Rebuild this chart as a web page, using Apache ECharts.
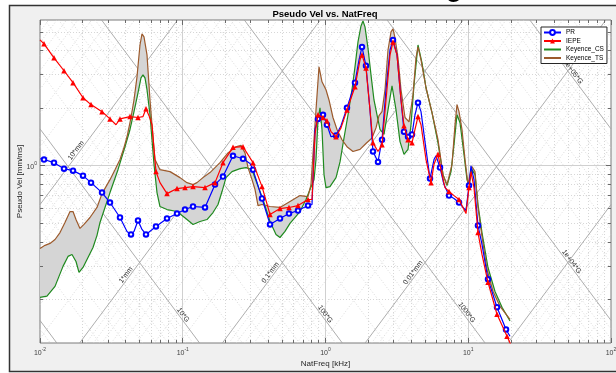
<!DOCTYPE html>
<html>
<head>
<meta charset="utf-8">
<script src="https://cdn.jsdelivr.net/npm/echarts@6/dist/echarts.min.js"></script>
<style>
  html, body { margin: 0; padding: 0; background: #ffffff; }
  #chart { width: 616px; height: 373px; }
</style>
</head>
<body>
<div id="chart"></div>
<script>
// ---- Shock response spectra: pseudo velocity [mm/ms] against natural frequency [kHz] ----

const PR_freq = [0.0100,0.01067,0.01253,0.01473,0.01703,0.02001,0.02277,0.02719,0.03093,0.03634,0.04069,0.04340,0.04555,0.04859,0.05182,0.05528,0.06494,0.07757,0.09116,0.1037,0.1180,0.1432,0.1683,0.1914,0.2249,0.2643,0.2959,0.3106,0.3592,0.4086,0.4800,0.5550,0.6417,0.7541,0.8043,0.8442,0.8861,0.9605,1.024,1.093,1.185,1.284,1.414,1.609,1.717,1.802,1.921,2.050,2.151,2.332,2.488,2.654,2.831,2.971,3.169,3.380,3.548,3.785,4.036,4.236,4.446,4.667,5.058,5.396,5.756,5.945,6.341,6.763,7.334,7.947,8.615,9.188,9.643,10.12,10.45,10.97,11.70,12.48,13.75,15.90,18.39,19.61];
const PR_vel = [1.09,1.08,1.04,0.968,0.945,0.890,0.818,0.726,0.644,0.538,0.455,0.439,0.455,0.519,0.466,0.439,0.483,0.532,0.564,0.592,0.614,0.607,0.799,0.880,1.13,1.09,1.03,0.956,0.676,0.495,0.532,0.564,0.585,0.621,0.629,1.55,1.76,1.85,1.64,1.42,1.44,1.62,2.01,2.72,3.58,4.18,3.33,1.96,1.19,1.05,1.37,2.50,4.03,4.55,3.80,2.21,1.51,1.42,1.46,1.85,2.14,1.92,1.22,0.859,1.08,1.13,0.980,0.799,0.700,0.676,0.644,0.607,0.585,0.790,1.00,0.848,0.489,0.389,0.256,0.183,0.140,0.129];
// 1 = point carries a marker
const PR_mark = [0,1,1,1,1,1,1,1,1,1, 0,1,0,1,0,1,1,1,1,1, 1,1,1,1,1,1,0,1,1,1, 1,1,1,1,0,0,1,1,1,0, 1,0,1,1,0,1,1,0,1,1, 1,0,0,1,0,0,1,1,1,0, 1,0,0,1,0,0,1,0,1,0, 1,0,0,1,0,0,1,0,1,1, 1,0];

const IEPE_freq = [0.0100,0.01067,0.01253,0.01473,0.01703,0.02001,0.02277,0.02719,0.03093,0.03407,0.03634,0.04271,0.04859,0.05266,0.05528,0.05802,0.06089,0.06288,0.06494,0.06927,0.07757,0.09116,0.1037,0.1180,0.1432,0.1683,0.1914,0.2249,0.2643,0.3106,0.3592,0.4086,0.4800,0.5550,0.6417,0.7541,0.8043,0.8442,0.8861,0.9605,1.024,1.093,1.185,1.284,1.414,1.609,1.745,1.802,1.921,2.050,2.151,2.332,2.488,2.654,2.831,2.971,3.169,3.380,3.548,3.785,4.036,4.236,4.446,4.667,5.058,5.484,5.756,6.139,6.444,6.872,7.334,7.947,8.615,9.188,9.643,10.12,10.45,10.97,11.70,12.48,13.75,15.90,18.69,19.93];
const IEPE_vel = [4.55,4.34,3.67,3.14,2.72,2.27,2.09,1.92,1.76,1.64,1.76,1.81,1.79,1.81,1.99,1.83,1.64,1.22,0.934,0.818,0.717,0.762,0.771,0.780,0.771,0.818,1.04,1.25,1.26,1.04,0.780,0.558,0.599,0.607,0.621,0.668,0.668,1.46,1.85,1.79,1.72,1.51,1.42,1.58,1.96,2.59,3.58,3.80,3.25,1.96,1.32,1.19,1.29,2.21,3.80,4.44,3.80,2.21,1.62,1.37,1.32,1.55,1.81,1.64,1.08,0.818,1.02,1.15,0.956,0.771,0.735,0.700,0.668,0.607,0.564,0.771,0.934,0.771,0.449,0.345,0.247,0.168,0.129,0.116];
const IEPE_mark = [0,1,1,1,1,1,1,1,1,0, 1,1,1,0,1,0,0,0,1,0, 1,1,1,1,1,1,1,1,1,1, 1,1,1,1,1,1,0,0,1,1, 1,0,1,0,1,1,0,1,1,0, 1,0,1,0,0,1,0,0,1,1, 1,0,1,0,0,1,0,1,0,0, 1,0,1,0,0,1,0,0,1,0, 1,1,1,0];

const CS_freq = [0.0100,0.01119,0.01274,0.01449,0.01571,0.01676,0.01787,0.01876,0.02001,0.02169,0.02351,0.02508,0.02633,0.02853,0.03093,0.03518,0.03940,0.04271,0.04555,0.04859,0.05099,0.05266,0.05439,0.05618,0.05896,0.06089,0.06288,0.06600,0.06927,0.07757,0.09116,0.1071,0.1180,0.1321,0.1479,0.1629,0.1766,0.1884,0.2009,0.2213,0.2518,0.2775,0.3056,0.3313,0.3650,0.4086,0.4500,0.4800,0.5203,0.5640,0.6627,0.7302,0.7788,0.8307,0.8579,0.8861,0.9151,0.9452,0.9761,1.008,1.075,1.185,1.264,1.348,1.438,1.533,1.609,1.689,1.773,1.831,1.891,1.984,2.083,2.186,2.295,2.409,2.570,2.741,2.924,3.119,3.326,3.548,3.785,3.972,4.169,4.446,4.742,5.058,5.573,6.139,6.655,7.098,7.574,7.947,8.342,8.754,9.337,9.800,10.12,10.62,11.15,11.70,12.48,13.75,15.40,17.24,19.61];
const CS_vel = [0.206,0.209,0.235,0.299,0.337,0.345,0.317,0.278,0.295,0.333,0.375,0.434,0.507,0.607,0.726,0.956,1.26,1.55,1.92,2.41,2.88,2.99,2.88,2.50,1.85,1.37,1.02,0.726,0.614,0.592,0.578,0.525,0.495,0.513,0.525,0.571,0.629,0.735,0.869,0.934,0.968,0.980,0.956,0.809,0.668,0.513,0.439,0.423,0.455,0.501,0.578,0.668,0.753,0.848,1.08,1.74,2.01,1.55,0.901,0.771,0.780,0.869,1.05,1.40,1.85,2.50,3.29,4.44,5.38,5.71,5.32,4.13,2.99,2.21,1.85,1.55,1.46,1.96,2.62,1.96,1.34,1.15,1.22,1.64,2.65,4.28,3.45,2.56,1.90,1.32,0.901,0.790,0.934,1.29,1.85,1.68,1.15,0.848,0.790,0.956,0.901,0.629,0.449,0.295,0.221,0.183,0.155];

const TS_freq = [0.0100,0.01084,0.01175,0.01274,0.01381,0.01496,0.01623,0.01703,0.01787,0.01906,0.02033,0.02240,0.02508,0.02719,0.03093,0.03353,0.03634,0.03877,0.04069,0.04340,0.04555,0.04781,0.05017,0.05182,0.05352,0.05618,0.05896,0.06089,0.06391,0.06927,0.08143,0.09566,0.1071,0.1180,0.1258,0.1386,0.1552,0.1824,0.2075,0.2361,0.2559,0.2730,0.2865,0.3056,0.3208,0.3367,0.3592,0.4086,0.4800,0.5640,0.6627,0.7541,0.7914,0.8174,0.8579,0.9005,0.9452,1.008,1.058,1.128,1.204,1.305,1.414,1.558,1.745,1.921,2.117,2.258,2.370,2.488,2.611,2.741,2.877,2.971,3.069,3.220,3.380,3.606,3.846,4.102,4.305,4.446,4.667,5.058,5.573,6.139,6.655,7.098,7.697,8.077,8.342,8.615,9.041,9.489,9.959,10.29,10.62,11.15,11.70,12.48,13.53,14.91,16.69,19.61];
const TS_vel = [0.371,0.385,0.394,0.413,0.449,0.507,0.578,0.578,0.525,0.472,0.495,0.538,0.607,0.717,0.848,0.956,1.08,1.25,1.42,1.79,2.21,2.92,4.28,4.89,4.72,3.80,2.21,1.64,1.08,0.956,0.934,0.869,0.818,0.799,0.818,0.869,0.923,1.04,1.17,1.26,1.28,1.17,0.980,0.848,0.753,0.621,0.629,0.614,0.607,0.652,0.700,0.692,0.799,1.15,1.96,3.29,2.75,2.50,2.21,1.79,1.55,1.37,1.26,1.19,1.22,1.31,1.40,1.58,1.83,1.92,2.50,4.03,5.01,5.19,4.66,3.67,2.50,1.79,1.70,2.35,3.67,4.18,3.58,2.56,1.90,1.37,0.901,0.799,1.02,1.64,2.09,1.92,1.55,1.08,0.799,0.901,0.992,0.934,0.607,0.428,0.288,0.221,0.185,0.158];

// axis ranges
const F_MIN = 0.01, F_MAX = 100, V_MIN = 0.119, V_MAX = 5.78;
// tick labels are powers of ten
const X_TICK_EXP = [-2, -1, 0, 1, 2];
const Y_TICK_EXP = [0];

// tripartite reference lines: constant displacement [mm] and constant acceleration [G]
const DISP_MM = [10, 1, 0.1, 0.01, 0.001];
const DISP_TEXT = ['10*mm', '1*mm', '0.1*mm', '0.01*mm', ''];
const ACCEL_G = [1, 10, 100, 1000, 1e4, 1e5];
const ACCEL_TEXT = ['', '10*G', '100*G', '1000*G', '1e+04*G', '1e+05*G'];

// frequency along each reference line where its label is written
const DISP_LABEL_AT = [0.0187, 0.0418, 0.430, 4.30, null];
const ACCEL_LABEL_AT = [null, 0.0961, 0.951, 9.32, 50.6, 51.7];

const G_MM_MS2 = 9.80665e-3;   // 1 G in mm/ms^2
const TWO_PI = 2 * Math.PI;
const FONT = "'Liberation Sans', Arial, Helvetica, sans-serif";

// ---- helpers ----
const LX0 = Math.log10(F_MIN), LX1 = Math.log10(F_MAX);
const LY0 = Math.log10(V_MIN), LY1 = Math.log10(V_MAX);

// clip log V = s*log f + c to the plot box
function clipDiagonal(c, s) {
  let a, b;
  if (s > 0) { a = Math.max(LX0, LY0 - c); b = Math.min(LX1, LY1 - c); }
  else { a = Math.max(LX0, c - LY1); b = Math.min(LX1, c - LY0); }
  if (b <= a) return null;
  return [Math.pow(10, a), Math.pow(10, s * a + c), Math.pow(10, b), Math.pow(10, s * b + c)];
}
const dispConst = d => Math.log10(TWO_PI * d);
const accelConst = g => Math.log10(g * G_MM_MS2 / TWO_PI);

// grid segments: [f1, v1, f2, v2, kind]; kind 0 major, 1 minor, 2 major diagonal, 3 minor diagonal
const gridSegs = [];
for (let e = -2; e < 2; e++) {
  for (let k = 1; k <= 9; k++) {
    const f = k * Math.pow(10, e);
    if (f <= F_MIN * 1.0001 || f >= F_MAX * 0.9999) continue;
    gridSegs.push([f, V_MIN, f, V_MAX, k === 1 ? 0 : 1]);
  }
}
for (let e = -1; e <= 0; e++) {
  for (let k = 1; k <= 9; k++) {
    const v = k * Math.pow(10, e);
    if (v <= V_MIN || v >= V_MAX) continue;
    gridSegs.push([F_MIN, v, F_MAX, v, k === 1 ? 0 : 1]);
  }
}
for (let e = -4; e <= 2; e++) {
  for (let k = 1; k <= 9; k++) {
    const seg = clipDiagonal(dispConst(k * Math.pow(10, e)), 1);
    if (seg) gridSegs.push(seg.concat([k === 1 ? 2 : 3]));
  }
}
for (let e = -1; e <= 6; e++) {
  for (let k = 1; k <= 9; k++) {
    const seg = clipDiagonal(accelConst(k * Math.pow(10, e)), -1);
    if (seg) gridSegs.push(seg.concat([k === 1 ? 2 : 3]));
  }
}
const GRID_STYLE = [
  { stroke: '#d0d0d0', lineWidth: 1 },
  { stroke: '#cdcdcd', lineWidth: 0.8, lineDash: [1, 2] },
  { stroke: '#a4a4a4', lineWidth: 0.9 },
  { stroke: '#d0d0d0', lineWidth: 0.8, lineDash: [1, 2] }
];

// ticks: [f, v, isY, major, exponent]
const tickData = [];
for (let e = -2; e <= 2; e++) {
  for (let k = 1; k <= 9; k++) {
    const f = k * Math.pow(10, e);
    if (f > F_MAX * 1.0001) break;
    const major = k === 1;
    tickData.push([f, V_MIN, 0, major ? 1 : 0, major && X_TICK_EXP.includes(e) ? e : null]);
  }
}
for (let e = -1; e <= 0; e++) {
  for (let k = 1; k <= 9; k++) {
    const v = k * Math.pow(10, e);
    if (v <= V_MIN || v >= V_MAX) continue;
    const major = k === 1;
    tickData.push([F_MIN, v, 1, major ? 1 : 0, major && Y_TICK_EXP.includes(e) ? e : null]);
  }
}

// reference line labels: [f, v, slopeSign, textIndex]
const refLabels = [];
const refTexts = [];
DISP_MM.forEach((d, i) => {
  if (DISP_LABEL_AT[i] == null) return;
  const f = DISP_LABEL_AT[i];
  refLabels.push([f, TWO_PI * f * d, 1, refTexts.length]);
  refTexts.push(DISP_TEXT[i]);
});
ACCEL_G.forEach((g, i) => {
  if (ACCEL_LABEL_AT[i] == null) return;
  const f = ACCEL_LABEL_AT[i];
  refLabels.push([f, g * G_MM_MS2 / (TWO_PI * f), -1, refTexts.length]);
  refTexts.push(ACCEL_TEXT[i]);
});

function lineData(freq, vel, mark) {
  return freq.map((f, i) => (mark && !mark[i]) ? { value: [f, vel[i]], symbol: 'none' } : { value: [f, vel[i]] });
}

const tickRich = {
  b: { fontSize: 7, fontFamily: FONT, fill: '#404040', lineHeight: 10, verticalAlign: 'bottom' },
  s: { fontSize: 5, fontFamily: FONT, fill: '#404040', lineHeight: 10, verticalAlign: 'top' }
};

const chart = echarts.init(document.getElementById('chart'));

const option = {
  animation: false,
  backgroundColor: '#ffffff',
  title: {
    text: 'Pseudo Vel vs. NatFreq',
    left: 325, top: 9, textAlign: 'center', padding: 0,
    textStyle: { fontSize: 9.5, fontWeight: 'bold', color: '#000', fontFamily: FONT }
  },
  graphic: [
    { type: 'rect', z: -10, silent: true,
      shape: { x: 9.5, y: 5.5, width: 620, height: 366 },
      style: { fill: '#f0f0f0', stroke: '#333333', lineWidth: 1.5 } },
    { type: 'text', z: 10, silent: true, x: 446, y: -23,
      style: { text: 'g', font: "bold 26px 'Liberation Sans', Arial, sans-serif", fill: '#000' } }
  ],
  grid: {
    left: 40, right: 5, top: 20, bottom: 29,
    show: true, backgroundColor: '#ffffff', borderColor: '#7a7a7a', borderWidth: 1
  },
  legend: {
    data: [
      { name: 'PR' },
      { name: 'IEPE' },
      { name: 'Keyence_CS', itemStyle: { opacity: 0 } },
      { name: 'Keyence_TS', itemStyle: { opacity: 0 } }
    ],
    orient: 'vertical', left: 541, top: 27,
    itemWidth: 17, itemHeight: 6, itemGap: 1.5,
    padding: [2, 3, 2, 2],
    backgroundColor: '#ffffff', borderColor: '#262626', borderWidth: 1, borderRadius: 0,
    textStyle: { fontSize: 6.5, lineHeight: 7, fontFamily: FONT, color: '#000' },
    selectedMode: false
  },
  xAxis: {
    type: 'log', logBase: 10, min: F_MIN, max: F_MAX,
    axisLine: { show: false }, axisTick: { show: false }, axisLabel: { show: false }, splitLine: { show: false },
    name: 'NatFreq [kHz]', nameLocation: 'middle', nameGap: 17,
    nameTextStyle: { fontSize: 8, color: '#262626', fontFamily: FONT }
  },
  yAxis: {
    type: 'log', logBase: 10, min: V_MIN, max: V_MAX,
    axisLine: { show: false }, axisTick: { show: false }, axisLabel: { show: false }, splitLine: { show: false },
    name: 'Pseudo Vel [mm/ms]', nameLocation: 'middle', nameGap: 16, nameRotate: 90,
    nameTextStyle: { fontSize: 8, color: '#262626', fontFamily: FONT }
  },
  series: [
    {
      type: 'custom', name: 'grid', silent: true, z: 1,
      data: gridSegs, encode: { x: [0, 2], y: [1, 3] },
      renderItem(params, api) {
        const a = api.coord([api.value(0), api.value(1)]);
        const b = api.coord([api.value(2), api.value(3)]);
        const kind = api.value(4);
        if (kind < 2) {
          if (Math.abs(a[0] - b[0]) < 0.01) { a[0] = b[0] = Math.floor(a[0]) + 0.5; }
          else { a[1] = b[1] = Math.floor(a[1]) + 0.5; }
        }
        return { type: 'line', shape: { x1: a[0], y1: a[1], x2: b[0], y2: b[1] }, style: GRID_STYLE[kind] };
      }
    },
    {
      type: 'custom', name: 'band', silent: true, z: 2,
      data: [[CS_freq[0], CS_vel[0]]], encode: { x: 0, y: 1 },
      renderItem(params, api) {
        const pts = [];
        for (let i = 0; i < CS_freq.length; i++) pts.push(api.coord([CS_freq[i], CS_vel[i]]));
        for (let i = TS_freq.length - 1; i >= 0; i--) pts.push(api.coord([TS_freq[i], TS_vel[i]]));
        return { type: 'polygon', shape: { points: pts }, style: { fill: '#d5d5d5' } };
      }
    },
    {
      type: 'custom', name: 'refLabels', silent: true, z: 3,
      data: refLabels, encode: { x: 0, y: 1 },
      renderItem(params, api) {
        const f = api.value(0), v = api.value(1), s = api.value(2);
        const p = api.coord([f, v]);
        const q = api.coord([f * 1.2, s > 0 ? v * 1.2 : v / 1.2]);
        const ang = Math.atan2(-(q[1] - p[1]), q[0] - p[0]);
        return {
          type: 'text', x: p[0], y: p[1], rotation: ang,
          style: { text: refTexts[api.value(3)], align: 'center', verticalAlign: 'bottom',
                   font: "7px 'Liberation Sans', Arial, sans-serif", fill: '#2a2a2a' }
        };
      }
    },
    {
      name: 'Keyence_CS', type: 'line', z: 4,
      data: lineData(CS_freq, CS_vel), symbol: 'none',
      lineStyle: { color: '#1f8a1f', width: 1.2 }, itemStyle: { color: '#1f8a1f' },
      emphasis: { disabled: true }
    },
    {
      name: 'Keyence_TS', type: 'line', z: 4,
      data: lineData(TS_freq, TS_vel), symbol: 'none',
      lineStyle: { color: '#9c5a2c', width: 1.2 }, itemStyle: { color: '#9c5a2c' },
      emphasis: { disabled: true }
    },
    {
      name: 'PR', type: 'line', z: 5,
      data: lineData(PR_freq, PR_vel, PR_mark),
      symbol: 'emptyCircle', symbolSize: 4.5,
      lineStyle: { color: '#0000ff', width: 1.2 }, itemStyle: { color: '#0000ff', borderWidth: 1 },
      emphasis: { disabled: true }
    },
    {
      name: 'IEPE', type: 'line', z: 6,
      data: lineData(IEPE_freq, IEPE_vel, IEPE_mark),
      symbol: 'triangle', symbolSize: 5.5,
      lineStyle: { color: '#ff0000', width: 1.2 }, itemStyle: { color: '#ff0000' },
      emphasis: { disabled: true }
    },
    {
      type: 'custom', name: 'ticks', silent: true, z: 7,
      data: tickData, encode: { x: 0, y: 1 },
      renderItem(params, api) {
        const cs = params.coordSys;
        const isY = api.value(2) === 1;
        const len = api.value(3) === 1 ? 5 : 3;
        const exp = api.value(4);
        const p = api.coord([api.value(0), api.value(1)]);
        const st = { stroke: '#6a6a6a', lineWidth: 1 };
        const ch = [];
        if (!isY) {
          const x = Math.floor(p[0]) + 0.5, yb = cs.y + cs.height, yt = cs.y;
          ch.push({ type: 'line', shape: { x1: x, y1: yb, x2: x, y2: yb - len }, style: st });
          ch.push({ type: 'line', shape: { x1: x, y1: yt, x2: x, y2: yt + len }, style: st });
          if (exp != null && !isNaN(exp)) {
            ch.push({ type: 'text', x: p[0], y: yb + 4,
              style: { text: '{b|10}{s|' + exp + '}', rich: tickRich, align: 'center', verticalAlign: 'top' } });
          }
        } else {
          const y = Math.floor(p[1]) + 0.5, xl = cs.x, xr = cs.x + cs.width;
          ch.push({ type: 'line', shape: { x1: xl, y1: y, x2: xl + len, y2: y }, style: st });
          ch.push({ type: 'line', shape: { x1: xr, y1: y, x2: xr - len, y2: y }, style: st });
          if (exp != null && !isNaN(exp)) {
            ch.push({ type: 'text', x: xl - 3, y: p[1],
              style: { text: '{b|10}{s|' + exp + '}', rich: tickRich, align: 'right', verticalAlign: 'middle' } });
          }
        }
        return { type: 'group', children: ch };
      }
    }
  ]
};

chart.setOption(option);
</script>
</body>
</html>
